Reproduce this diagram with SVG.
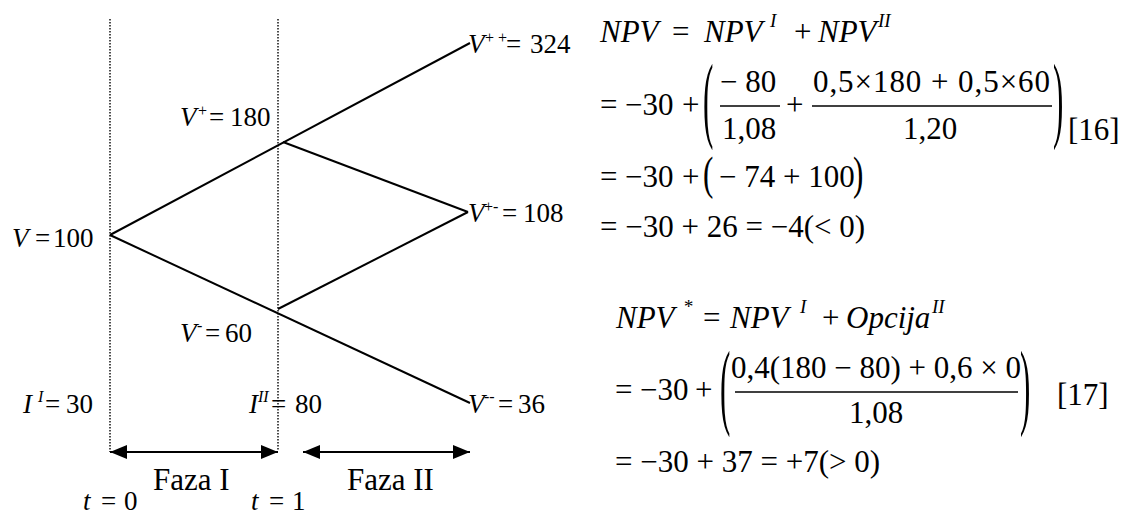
<svg xmlns="http://www.w3.org/2000/svg" width="1127" height="516" viewBox="0 0 1127 516">
  <style>
    text { font-family: "Liberation Serif", "Times New Roman", serif; fill: #000; }
    .lbl { font-size: 27px; }
    .sup { font-size: 16px; }
    .eq { font-size: 31px; }
    .esup { font-size: 19px; font-style: italic; }
    .it { font-style: italic; }
    .big { font-size: 31px; }
    .guide { stroke: #000; stroke-width: 1.4; stroke-dasharray: 1.4 1.6; fill: none; }
    .branch { stroke: #000; stroke-width: 2; fill: none; }
    .span { stroke: #000; stroke-width: 2; fill: none; marker-start: url(#head-start); marker-end: url(#head-end); }
    .bar { stroke: #000; stroke-width: 1.5; }
  </style>
  <defs>
    <marker id="head-end" viewBox="0 0 17 14" refX="17" refY="7" markerWidth="17" markerHeight="14" markerUnits="userSpaceOnUse" orient="auto">
      <path d="M0,0 L17,7 L0,14 Z" fill="#000"/>
    </marker>
    <marker id="head-start" viewBox="0 0 17 14" refX="0" refY="7" markerWidth="17" markerHeight="14" markerUnits="userSpaceOnUse" orient="auto">
      <path d="M17,0 L0,7 L17,14 Z" fill="#000"/>
    </marker>
  </defs>

  <!-- time guides at t = 0 and t = 1 -->
  <g id="guides">
    <line class="guide" x1="110" y1="19" x2="110" y2="452"/>
    <line class="guide" x1="278" y1="19" x2="278" y2="450"/>
  </g>

  <!-- binomial tree branches and phase spans -->
  <g id="connectors">
    <line class="branch" x1="110" y1="235" x2="470" y2="43"/>
    <line class="branch" x1="110" y1="235" x2="470" y2="403"/>
    <line class="branch" x1="283" y1="142" x2="468" y2="212"/>
    <line class="branch" x1="278" y1="309" x2="468" y2="212"/>
    <line class="span" x1="110" y1="452" x2="278" y2="452"/>
    <line class="span" x1="303" y1="452" x2="470" y2="452"/>
  </g>

  <!-- tree nodes -->
  <g id="node-v">
    <text class="lbl" y="247"><tspan class="it" x="12">V</tspan><tspan x="35">=</tspan><tspan x="53">100</tspan></text>
  </g>
  <g id="node-vu">
    <text class="lbl" y="126"><tspan class="it" x="180">V</tspan><tspan class="sup" x="198" y="116">+</tspan><tspan x="209" y="126">=</tspan><tspan x="230">180</tspan></text>
  </g>
  <g id="node-vd">
    <text class="lbl" y="342"><tspan class="it" x="180">V</tspan><tspan class="sup" x="197" y="331">-</tspan><tspan x="205" y="342">=</tspan><tspan x="225">60</tspan></text>
  </g>
  <g id="node-vuu">
    <text class="lbl" y="53"><tspan class="it" x="468">V</tspan><tspan class="sup" x="485" y="43">+ +</tspan><tspan x="506" y="53">=</tspan><tspan x="530">324</tspan></text>
  </g>
  <g id="node-vud">
    <text class="lbl" y="222"><tspan class="it" x="468">V</tspan><tspan class="sup" x="484" y="212">+-</tspan><tspan x="502" y="222">=</tspan><tspan x="523">108</tspan></text>
  </g>
  <g id="node-vdd">
    <text class="lbl" y="413"><tspan class="it" x="468">V</tspan><tspan class="sup" x="484" y="402">--</tspan><tspan x="498" y="413">=</tspan><tspan x="518">36</tspan></text>
  </g>
  <g id="invest-1">
    <text class="lbl" y="413"><tspan class="it" x="23">I</tspan><tspan class="sup it" x="38" y="402">I</tspan><tspan x="45" y="413">=</tspan><tspan x="66">30</tspan></text>
  </g>
  <g id="invest-2">
    <text class="lbl" y="413"><tspan class="it" x="249">I</tspan><tspan class="sup it" x="258" y="402">II</tspan><tspan x="271" y="413">=</tspan><tspan x="295">80</tspan></text>
  </g>
  <g id="phases">
    <text class="big" x="153" y="490">Faza I</text>
    <text class="big" x="347" y="490">Faza II</text>
    <text class="lbl" y="510"><tspan class="it" x="83">t</tspan><tspan x="101">=</tspan><tspan x="124">0</tspan></text>
    <text class="lbl" y="510"><tspan class="it" x="251">t</tspan><tspan x="269">=</tspan><tspan x="292">1</tspan></text>
  </g>

  <!-- NPV without option, eq. [16] -->
  <g id="eq16">
    <text class="eq" y="42"><tspan class="it" x="600">NPV</tspan><tspan x="672">=</tspan><tspan class="it" x="704">NPV</tspan><tspan class="esup" x="770" y="27">I</tspan><tspan x="794" y="42">+</tspan><tspan class="it" x="818">NPV</tspan><tspan class="esup" x="878" y="27">II</tspan></text>

    <text class="eq" y="115"><tspan x="600">=</tspan><tspan x="625">−30</tspan><tspan x="682">+</tspan></text>
    <text class="eq" transform="translate(703,130) scale(1,3.04)">(</text>
    <text class="eq" x="720" y="92">− 80</text>
    <line class="bar" x1="720" y1="106" x2="780" y2="106"/>
    <text class="eq" x="722" y="139">1,08</text>
    <text class="eq" x="786" y="115">+</text>
    <text class="eq" x="813" y="92" textLength="237" lengthAdjust="spacing">0,5×180 + 0,5×60</text>
    <line class="bar" x1="812" y1="106" x2="1052" y2="106"/>
    <text class="eq" x="930" y="139" text-anchor="middle">1,20</text>
    <text class="eq" transform="translate(1053,130) scale(1,3.04)">)</text>
    <text class="eq" x="1068" y="140">[16]</text>

    <text class="eq" y="187"><tspan x="600">=</tspan><tspan x="625">−30</tspan><tspan x="682">+</tspan></text>
    <text class="eq" transform="translate(703,189) scale(1,1.48)">(</text>
    <text class="eq" x="719" y="187">− 74 + 100</text>
    <text class="eq" transform="translate(853,189) scale(1,1.48)">)</text>

    <text class="eq" x="600" y="237">= −30 + 26 = −4(&lt; 0)</text>
  </g>

  <!-- NPV with option, eq. [17] -->
  <g id="eq17">
    <text class="eq" y="328"><tspan class="it" x="616">NPV</tspan><tspan class="esup" x="683" y="313">*</tspan><tspan x="703" y="328">=</tspan><tspan class="it" x="730">NPV</tspan><tspan class="esup" x="800" y="313">I</tspan><tspan x="822" y="328">+</tspan><tspan class="it" x="846">Opcija</tspan><tspan class="esup" x="932" y="313">II</tspan></text>

    <text class="eq" y="400"><tspan x="615">=</tspan><tspan x="640">−30</tspan><tspan x="695">+</tspan></text>
    <text class="eq" transform="translate(720,417) scale(1,3.04)">(</text>
    <text class="eq" x="876" y="378" text-anchor="middle">0,4(180 − 80) + 0,6 × 0</text>
    <line class="bar" x1="735" y1="392" x2="1018" y2="392"/>
    <text class="eq" x="876" y="423" text-anchor="middle">1,08</text>
    <text class="eq" transform="translate(1020,417) scale(1,3.04)">)</text>
    <text class="eq" x="1057" y="405">[17]</text>

    <text class="eq" x="615" y="472">= −30 + 37 = +7(&gt; 0)</text>
  </g>
</svg>
